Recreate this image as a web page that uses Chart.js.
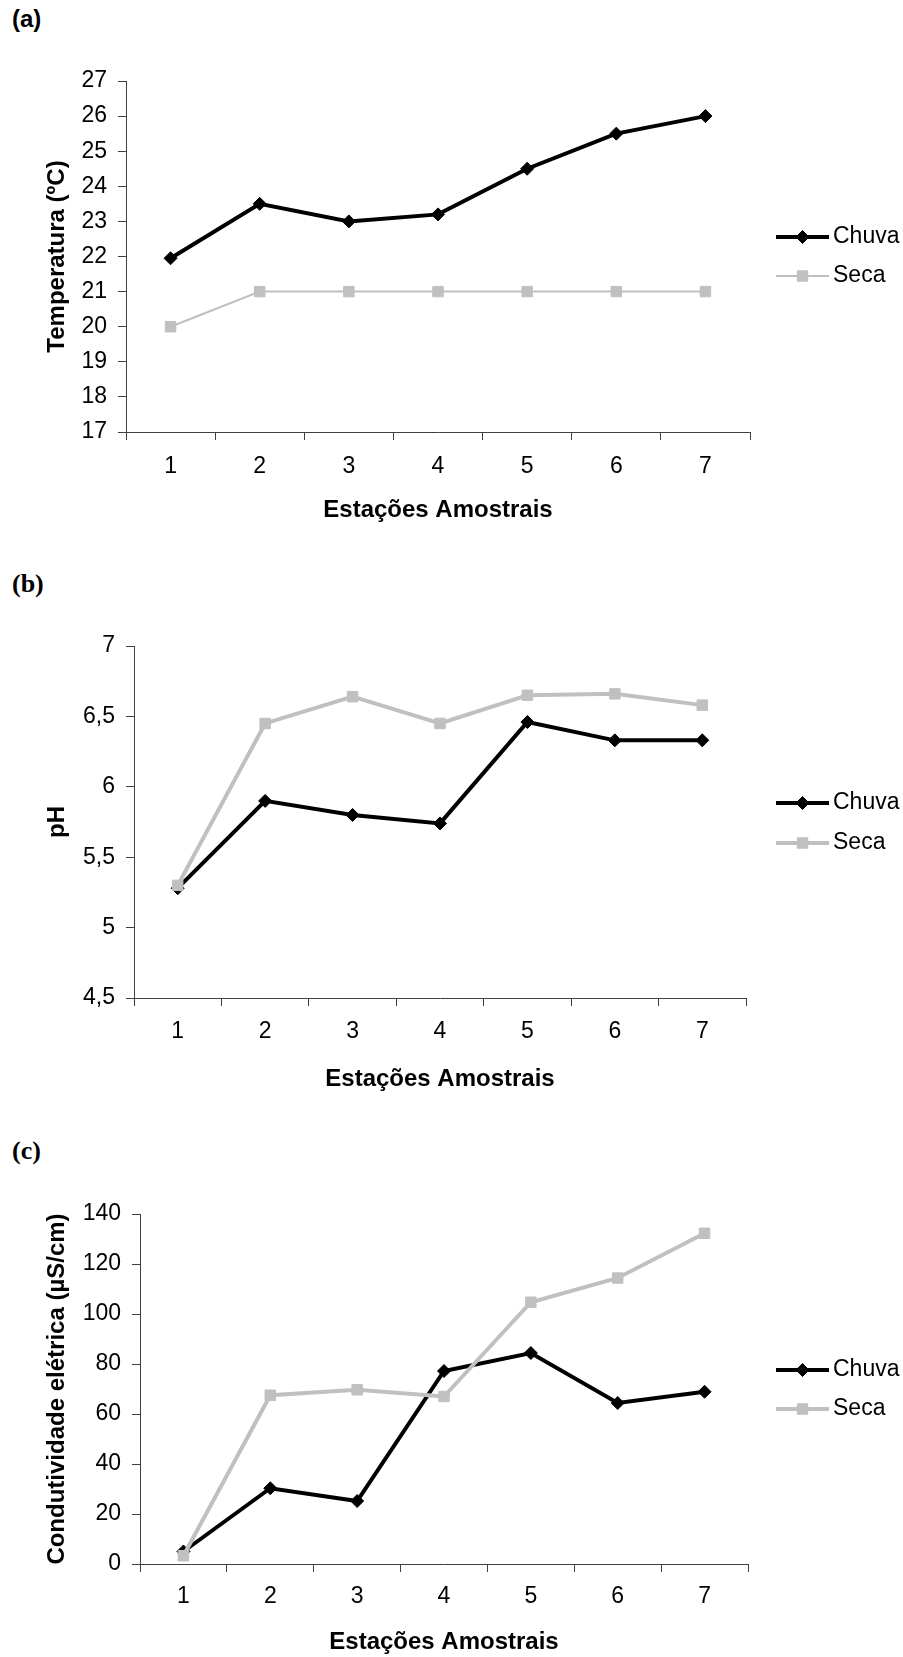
<!DOCTYPE html>
<html>
<head>
<meta charset="utf-8">
<script src="https://cdn.jsdelivr.net/npm/chart.js@4.4.1/dist/chart.umd.min.js"></script>
<style>
  body { margin: 0; background: #fff; width: 903px; height: 1657px; overflow: hidden; position: relative; }
  canvas { position: absolute; left: 0; }
  .tag { position: absolute; left: 12px; line-height: 1; color: #000; }
  #tagA { top: 5px; font: bold 24px "Liberation Sans", Arial, sans-serif; }
  #tagB { top: 569px; font: bold 26px "Liberation Serif", "Times New Roman", serif; }
  #tagC { top: 1136px; font: bold 26px "Liberation Serif", "Times New Roman", serif; }
</style>
</head>
<body>
<div class="tag" id="tagA">(a)</div>
<div class="tag" id="tagB">(b)</div>
<div class="tag" id="tagC">(c)</div>
<canvas id="chartA" width="903" height="545" style="top:0px"></canvas>
<canvas id="chartB" width="903" height="555" style="top:545px"></canvas>
<canvas id="chartC" width="903" height="557" style="top:1100px"></canvas>
<script>
// data
const estacoes = ['1', '2', '3', '4', '5', '6', '7'];
const seriesNames = ['Chuva', 'Seca'];

const tempChuva = [21.95, 23.5, 23.0, 23.2, 24.5, 25.5, 26.0];
const tempSeca = [20, 21, 21, 21, 21, 21, 21];

const phChuva = [5.28, 5.9, 5.8, 5.74, 6.46, 6.33, 6.33];
const phSeca = [5.3, 6.45, 6.64, 6.45, 6.65, 6.66, 6.58];

const condChuva = [5, 30.3, 25.2, 77.2, 84.4, 64.4, 68.9];
const condSeca = [3.3, 67.5, 69.7, 67, 104.7, 114.4, 132.3];

const FONT = '"Liberation Sans", Arial, sans-serif';
Chart.defaults.font.family = FONT;
Chart.defaults.color = '#000';

const axisColor = '#404040';

// legend drawn like the Excel one: a short line with the marker in the middle
const legendLines = {
    id: 'legendLines',
    afterDraw(chart, args, opts) {
        const ctx = chart.ctx;
        chart.data.datasets.forEach((ds, i) => {
            const y = opts.ys[i];
            ctx.save();
            ctx.strokeStyle = ds.borderColor;
            ctx.lineWidth = ds.borderWidth;
            ctx.beginPath();
            ctx.moveTo(opts.x1, y);
            ctx.lineTo(opts.x2, y);
            ctx.stroke();
            ctx.fillStyle = ds.pointBackgroundColor;
            ctx.strokeStyle = ds.pointBorderColor;
            ctx.lineWidth = 1;
            Chart.helpers.drawPoint(ctx, {
                pointStyle: ds.pointStyle, radius: ds.pointRadius, borderWidth: 1, rotation: 0
            }, (opts.x1 + opts.x2) / 2, y);
            ctx.fillStyle = '#000';
            ctx.font = '23px ' + FONT;
            ctx.textBaseline = 'middle';
            ctx.textAlign = 'left';
            ctx.fillText(ds.label, opts.tx, y);
            ctx.restore();
        });
    }
};

function makeChart(id, p) {
    const chuva = {
        label: seriesNames[0],
        data: p.chuva,
        borderColor: '#000',
        borderWidth: 4,
        pointStyle: 'rectRot',
        pointRadius: 6.5,
        pointBackgroundColor: '#000',
        pointBorderColor: '#000',
        pointBorderWidth: 1,
        tension: 0,
        order: 1
    };
    const seca = {
        label: seriesNames[1],
        data: p.seca,
        borderColor: '#c0c0c0',
        borderWidth: p.secaWidth,
        pointStyle: 'rect',
        pointRadius: 7.4,
        pointBackgroundColor: '#c0c0c0',
        pointBorderColor: '#c0c0c0',
        pointBorderWidth: 1,
        tension: 0,
        order: 0
    };
    return new Chart(document.getElementById(id), {
        type: 'line',
        data: { labels: estacoes, datasets: [chuva, seca] },
        plugins: [legendLines],
        options: {
            responsive: false,
            animation: false,
            layout: { padding: { left: 39, right: p.padRight, top: p.padTop, bottom: 0 } },
            plugins: {
                legend: { display: false },
                tooltip: { enabled: false },
                legendLines: p.legend
            },
            scales: {
                x: {
                    offset: true,
                    grid: {
                        offset: true, drawOnChartArea: false, drawTicks: true,
                        tickLength: 8, color: axisColor, lineWidth: 1
                    },
                    border: { color: axisColor, width: 1 },
                    ticks: { font: { size: 23 }, padding: p.xTickPad, color: '#000' },
                    title: {
                        display: true, text: 'Estações Amostrais',
                        font: { size: 24, weight: 'bold' },
                        padding: { top: 0, bottom: p.xTitlePad }, color: '#000'
                    },
                    afterFit: s => { s.height = p.xHeight; }
                },
                y: {
                    min: p.min, max: p.max,
                    grid: {
                        drawOnChartArea: false, drawTicks: true,
                        tickLength: 8, color: axisColor, lineWidth: 1
                    },
                    border: { color: axisColor, width: 1 },
                    ticks: {
                        stepSize: p.step, font: { size: 23 }, padding: 11, color: '#000',
                        callback: v => String(v).replace('.', ',')
                    },
                    title: {
                        display: true, text: p.yTitle,
                        font: { size: 24, weight: 'bold' },
                        padding: { top: 4, bottom: 0 }, color: '#000'
                    },
                    afterFit: s => { s.width = p.yWidth; }
                }
            }
        }
    });
}

makeChart('chartA', {
    chuva: tempChuva, seca: tempSeca, secaWidth: 2,
    min: 17, max: 27, step: 1, yTitle: 'Temperatura (ºC)',
    padTop: 81, padRight: 153, yWidth: 87, xHeight: 113, xTickPad: 13, xTitlePad: 20.6,
    legend: { x1: 776, x2: 829, tx: 833, ys: [237, 276] }
});

makeChart('chartB', {
    chuva: phChuva, seca: phSeca, secaWidth: 4,
    min: 4.5, max: 7, step: 0.5, yTitle: 'pH',
    padTop: 101, padRight: 157, yWidth: 95, xHeight: 102, xTickPad: 12, xTitlePad: 6.6,
    legend: { x1: 776, x2: 829, tx: 833, ys: [258, 298] }
});

makeChart('chartC', {
    chuva: condChuva, seca: condSeca, secaWidth: 4,
    min: 0, max: 140, step: 20, yTitle: 'Condutividade elétrica (µS/cm)',
    padTop: 114, padRight: 155, yWidth: 101, xHeight: 93, xTickPad: 11, xTitlePad: 0.6,
    legend: { x1: 776, x2: 829, tx: 833, ys: [270, 309] }
});
</script>
</body>
</html>
